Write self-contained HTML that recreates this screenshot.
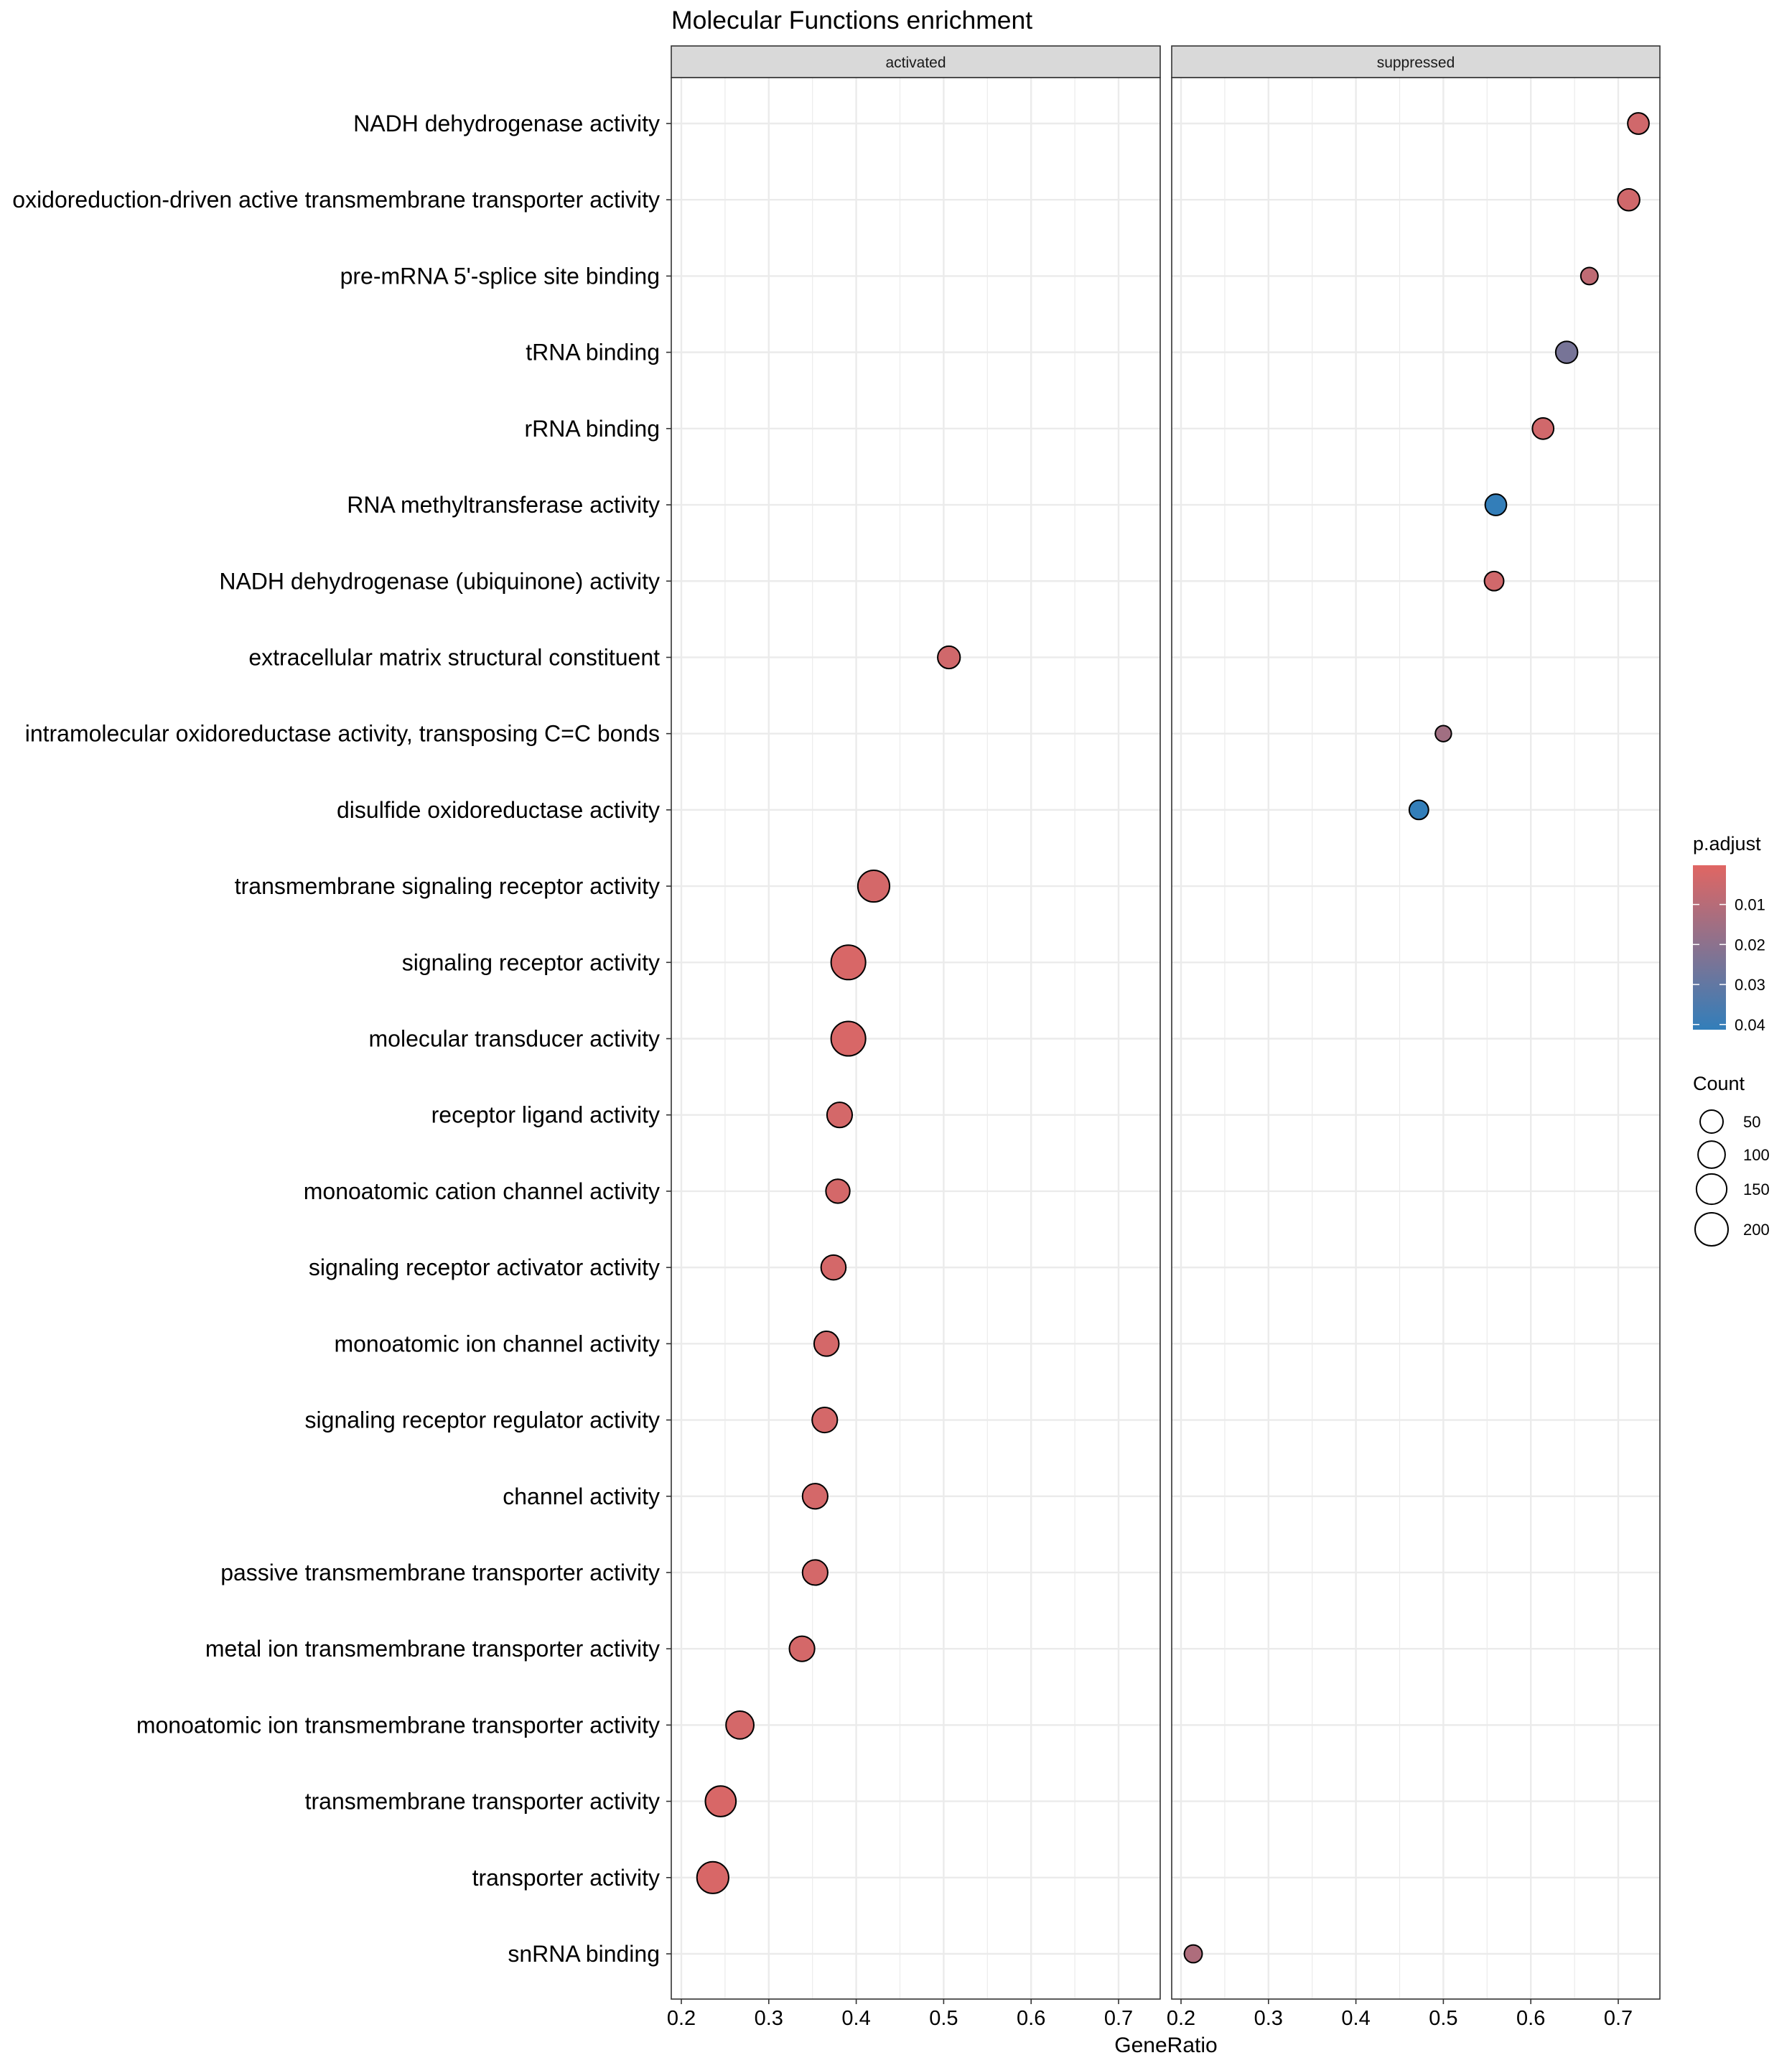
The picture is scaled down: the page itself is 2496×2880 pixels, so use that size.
<!DOCTYPE html>
<html><head><meta charset="utf-8"><style>
html,body{margin:0;padding:0;background:#fff;}
svg{display:block;font-family:"Liberation Sans",Arial,sans-serif;}
</style></head><body>
<svg id="chart" width="2496" height="2880" viewBox="0 0 2496 2880" xmlns="http://www.w3.org/2000/svg"></svg>
<script>
const terms = ["NADH dehydrogenase activity","oxidoreduction-driven active transmembrane transporter activity","pre-mRNA 5'-splice site binding","tRNA binding","rRNA binding","RNA methyltransferase activity","NADH dehydrogenase (ubiquinone) activity","extracellular matrix structural constituent","intramolecular oxidoreductase activity, transposing C=C bonds","disulfide oxidoreductase activity","transmembrane signaling receptor activity","signaling receptor activity","molecular transducer activity","receptor ligand activity","monoatomic cation channel activity","signaling receptor activator activity","monoatomic ion channel activity","signaling receptor regulator activity","channel activity","passive transmembrane transporter activity","metal ion transmembrane transporter activity","monoatomic ion transmembrane transporter activity","transmembrane transporter activity","transporter activity","snRNA binding"];
const panels = ["activated","suppressed"];
const pointPanel = [1,1,1,1,1,1,1,0,1,1,0,0,0,0,0,0,0,0,0,0,0,0,0,0,1];
const geneRatio = [0.723,0.712,0.667,0.641,0.614,0.560,0.558,0.506,0.500,0.472,0.420,0.391,0.391,0.381,0.379,0.374,0.366,0.364,0.353,0.353,0.338,0.267,0.245,0.236,0.214];
const counts = [35,40,9,40,35,35,20,45,5,20,175,230,230,75,60,70,70,75,75,75,75,110,155,175,12];
const padj = [0.004,0.004,0.008,0.025,0.004,0.041,0.004,0.004,0.015,0.041,0.003,0.002,0.002,0.003,0.003,0.003,0.003,0.003,0.003,0.003,0.003,0.003,0.002,0.002,0.012];
const xTicks = [0.2,0.3,0.4,0.5,0.6,0.7];
const xMinor = [0.25,0.35,0.45,0.55,0.65];
const pTicks = [0.01,0.02,0.03,0.04];
const sizeTicks = [50,100,150,200];

const NS="http://www.w3.org/2000/svg";
const svg=document.getElementById('chart');
function mk(tag,attrs,parent){const e=document.createElementNS(NS,tag);for(const k in attrs)e.setAttribute(k,attrs[k]);(parent||svg).appendChild(e);return e;}
const panelLeft=[935,1632], panelRight=[1616,2312];
const tick02=[949,1645], pxPer=1218;
function xScale(v,p){return tick02[p]+(v-0.2)*pxPer;}
const rowTop=172, rowStep=(2721-172)/24;
function yScale(i){return rowTop+i*rowStep;}
function rScale(c){return 9+0.99*Math.sqrt(c);}
const pMin=0.0002,pMax=0.0413;
const cLow=[224,102,99], cHigh=[50,126,186];
function colorScale(p){let t=(p-pMin)/(pMax-pMin);t=Math.max(0,Math.min(1,t));const c=cLow.map((a,i)=>Math.round(a+(cHigh[i]-a)*t));return `rgb(${c[0]},${c[1]},${c[2]})`;}
const plotTop=108, plotBottom=2784;

let t=mk('text',{x:935,y:40,'font-size':35.5,fill:'#000'});t.textContent="Molecular Functions enrichment";



panels.forEach((name,p)=>{
  const g=mk('g',{});
  
  
  mk('rect',{x:panelLeft[p],y:plotTop,width:panelRight[p]-panelLeft[p],height:plotBottom-plotTop,fill:'#fff'},g);
  xMinor.forEach(v=>mk('line',{x1:xScale(v,p),x2:xScale(v,p),y1:plotTop,y2:plotBottom,stroke:'#ebebeb','stroke-width':1.2},g));
  xTicks.forEach(v=>mk('line',{x1:xScale(v,p),x2:xScale(v,p),y1:plotTop,y2:plotBottom,stroke:'#ebebeb','stroke-width':2.4},g));
  terms.forEach((_,i)=>mk('line',{x1:panelLeft[p],x2:panelRight[p],y1:yScale(i),y2:yScale(i),stroke:'#ebebeb','stroke-width':2.4},g));
  mk('rect',{x:panelLeft[p],y:plotTop,width:panelRight[p]-panelLeft[p],height:plotBottom-plotTop,fill:'none',stroke:'#333','stroke-width':1.6},g);
  const s=mk('rect',{x:panelLeft[p],y:64,width:panelRight[p]-panelLeft[p],height:44,fill:'#d9d9d9',stroke:'#333','stroke-width':1.6});
  
  
  const st=mk('text',{x:(panelLeft[p]+panelRight[p])/2,y:94,'font-size':21,fill:'#1a1a1a','text-anchor':'middle'});st.textContent=name;
  
  
  xTicks.forEach(v=>{
    mk('line',{x1:xScale(v,p),x2:xScale(v,p),y1:plotBottom,y2:plotBottom+7,stroke:'#333','stroke-width':1.6});
    const tl=mk('text',{x:xScale(v,p),y:2820,'font-size':29,fill:'#000','text-anchor':'middle'});tl.textContent=v.toFixed(1);
    
    
  });
});

terms.forEach((term,i)=>{
  mk('line',{x1:928,x2:935,y1:yScale(i),y2:yScale(i),stroke:'#333','stroke-width':1.6});
  const l=mk('text',{x:919,y:yScale(i)+11,'font-size':32,fill:'#000','text-anchor':'end'});l.textContent=term;
  
  
});

terms.forEach((term,i)=>{
  const c=mk('circle',{cx:xScale(geneRatio[i],pointPanel[i]),cy:yScale(i),r:rScale(counts[i]),fill:colorScale(padj[i]),stroke:'#000','stroke-width':2});
  
  
});

let xt=mk('text',{x:1624,y:2858,'font-size':30,fill:'#000','text-anchor':'middle'});xt.textContent="GeneRatio";



const lg=mk('g',{});


const defs=mk('defs',{});
const grad=mk('linearGradient',{id:'pg',x1:0,y1:0,x2:0,y2:1},defs);
mk('stop',{offset:'0%','stop-color':colorScale(pMin)},grad);
mk('stop',{offset:'50%','stop-color':colorScale((pMin+pMax)/2)},grad);
mk('stop',{offset:'100%','stop-color':colorScale(pMax)},grad);
const LX=2358;
let lt=mk('text',{x:LX,y:1184,'font-size':27,fill:'#000'},lg);lt.textContent="p.adjust";
const barTop=1205,barBot=1434;
mk('rect',{x:LX,y:barTop,width:46,height:barBot-barTop,fill:'url(#pg)'},lg);
function pY(p){return barTop+(p-pMin)/(pMax-pMin)*(barBot-barTop);}
pTicks.forEach(p=>{
  mk('line',{x1:LX,x2:LX+9,y1:pY(p),y2:pY(p),stroke:'#fff','stroke-width':1.5},lg);
  mk('line',{x1:LX+37,x2:LX+46,y1:pY(p),y2:pY(p),stroke:'#fff','stroke-width':1.5},lg);
  const tx=mk('text',{x:LX+58,y:pY(p)+8,'font-size':22,fill:'#000'},lg);tx.textContent=p.toFixed(2);
});
const sg=mk('g',{});


let ct=mk('text',{x:LX,y:1518,'font-size':27,fill:'#000'},sg);ct.textContent="Count";
const sizeY=[1562,1608,1656,1712];
sizeTicks.forEach((c,i)=>{
  mk('circle',{cx:LX+26,cy:sizeY[i],r:rScale(c),fill:'none',stroke:'#000','stroke-width':2},sg);
  const tx=mk('text',{x:LX+70,y:sizeY[i]+8,'font-size':22,fill:'#000'},sg);tx.textContent=c;
});
</script>
</body></html>
